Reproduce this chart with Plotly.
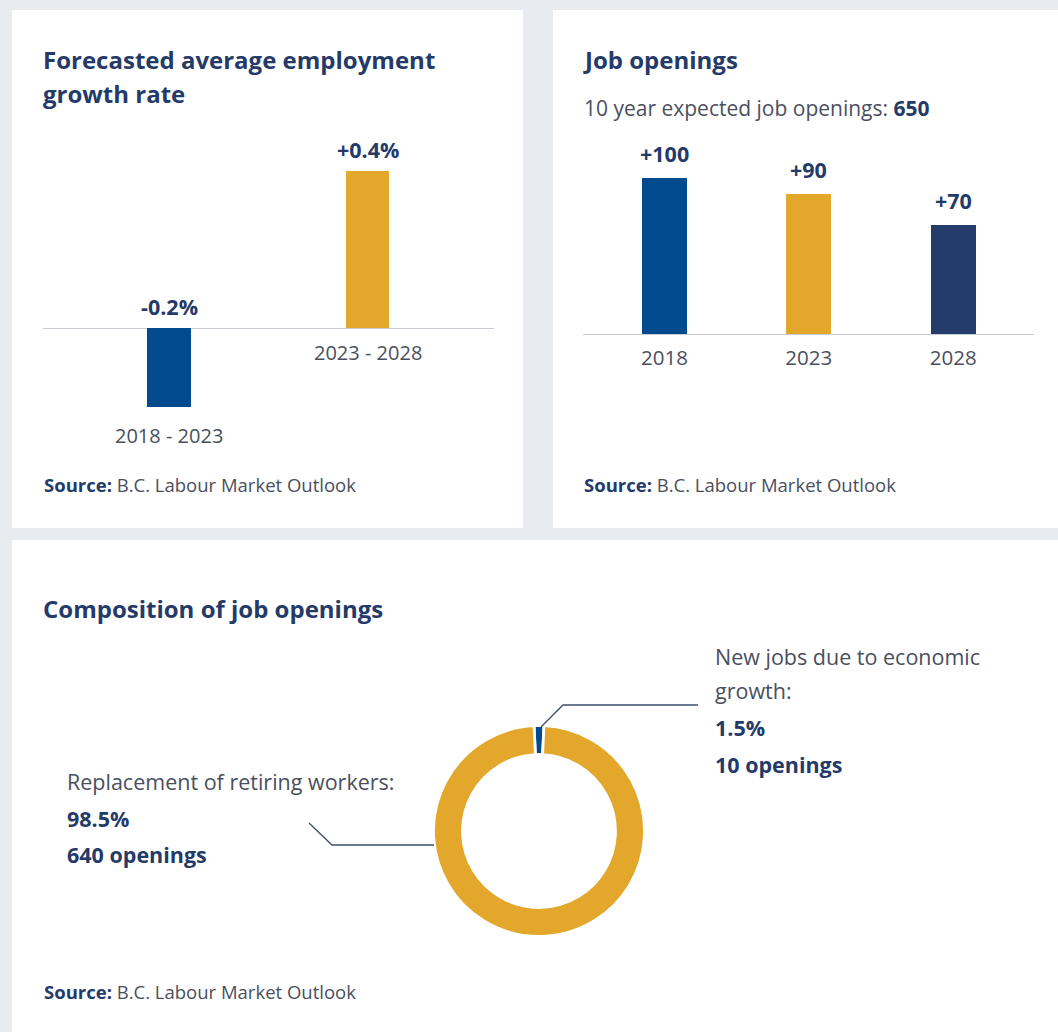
import plotly.graph_objects as go

W, H = 1058, 1032

# ---------------- data ----------------
growth_periods = ["2018 - 2023", "2023 - 2028"]
growth_values = [-0.2, 0.4]
growth_labels = ["-0.2%", "+0.4%"]

opening_years = ["2018", "2023", "2028"]
opening_values = [100, 90, 70]
opening_labels = ["+100", "+90", "+70"]
total_openings = 650

comp_names = ["New jobs due to economic growth", "Replacement of retiring workers"]
comp_share = [1.5, 98.5]
comp_openings = [10, 640]

# ---------------- style ----------------
BG = "#e8ebef"
NAVY = "#243a69"
TEXT = "#4a4f5e"
BLUE = "#014a8e"
GOLD = "#e3a72c"
DNAVY = "#233c6c"
LINE = "#c9cdd3"
FONT = "Open Sans"

def px(x):
    return x / W

def py(y):
    return 1 - y / H

fig = go.Figure()

# chart 1 : growth rate
fig.add_trace(go.Bar(
    x=growth_periods, y=growth_values, xaxis="x", yaxis="y",
    marker=dict(color=[BLUE, GOLD], line=dict(width=0)), width=0.22,
    hoverinfo="skip", showlegend=False))

# chart 2 : job openings
fig.add_trace(go.Bar(
    x=opening_years, y=opening_values, xaxis="x2", yaxis="y2",
    marker=dict(color=[BLUE, GOLD, DNAVY], line=dict(width=0)), width=0.31,
    hoverinfo="skip", showlegend=False))

# chart 3 : donut
cx, cy, r = 539, 831, 105.5
fig.add_trace(go.Pie(
    labels=comp_names, values=comp_share, hole=0.725, sort=False,
    direction="clockwise", rotation=-comp_share[0] * 3.6 / 2,
    marker=dict(colors=[BLUE, GOLD], line=dict(color="white", width=2.8)),
    textinfo="none", hoverinfo="skip", showlegend=False,
    domain=dict(x=[px(cx - r), px(cx + r)], y=[py(cy + r), py(cy - r)])))

# panels
shapes = []
for (x0, y0, x1, y1) in [(12, 10, 523, 528), (553, 10, 1058, 528), (12, 540, 1058, 1032)]:
    shapes.append(dict(type="rect", xref="paper", yref="paper", layer="below",
                       x0=px(x0), x1=px(x1), y0=py(y1), y1=py(y0),
                       fillcolor="white", line=dict(width=0)))

# leader lines for the donut
shapes.append(dict(type="path", xref="paper", yref="paper",
                   path=f"M {px(541)},{py(727)} L {px(563)},{py(705)} L {px(698)},{py(705)}",
                   line=dict(color="#3d4e70", width=1.3)))
shapes.append(dict(type="path", xref="paper", yref="paper",
                   path=f"M {px(434)},{py(845)} L {px(332)},{py(845)} L {px(309)},{py(823)}",
                   line=dict(color="#3d4e70", width=1.3)))

ann = []

def text(x, y, s, size, color, bold=False, anchor="left"):
    ann.append(dict(xref="paper", yref="paper", x=px(x), y=py(y), text=(f"<b>{s}</b>" if bold else s),
                    showarrow=False, xanchor=anchor, yanchor="middle",
                    font=dict(family=FONT, size=size, color=color)))

TITLE = 24
# titles
text(41, 60, "Forecasted average employment", TITLE, NAVY, True)
text(41, 94, "growth rate", TITLE, NAVY, True)
text(581, 60, "Job openings", TITLE, NAVY, True)
text(41, 608, "Composition of job openings", TITLE, NAVY, True)
text(582, 108, f"10 year expected job openings: <b style='color:{NAVY}'>{total_openings}</b>", 21, TEXT)

# sources
for (x, y) in [(42, 485), (582, 485), (42, 991)]:
    text(x, y, f"<b style='color:{NAVY}'>Source:</b> B.C. Labour Market Outlook", 18.5, TEXT)

# chart 1 value labels & category labels
for i, (cat, v, lab) in enumerate(zip(growth_periods, growth_values, growth_labels)):
    ann.append(dict(xref="x", yref="y", x=i, y=max(v, 0), text=f"<b>{lab}</b>", showarrow=False,
                    yanchor="bottom", yshift=5, font=dict(family=FONT, size=21.5, color=NAVY)))
    ann.append(dict(xref="x", yref="y", x=i, y=min(v, 0), text=cat, showarrow=False,
                    yanchor="top", yshift=(-13 if v < 0 else -9),
                    font=dict(family=FONT, size=20, color=TEXT)))

# chart 2 value labels
for i, (cat, v, lab) in enumerate(zip(opening_years, opening_values, opening_labels)):
    ann.append(dict(xref="x2", yref="y2", x=i, y=v, text=f"<b>{lab}</b>", showarrow=False,
                    yanchor="bottom", yshift=8, font=dict(family=FONT, size=21.5, color=NAVY)))

# donut labels
new_pct = f"{comp_share[0]}%"
rep_pct = f"{comp_share[1]}%"
LAB = 21.5
text(713, 656, "New jobs due to economic", LAB, TEXT)
text(713, 690, "growth:", LAB, TEXT)
text(713, 727, new_pct, LAB, NAVY, True)
text(713, 764, f"{comp_openings[0]} openings", LAB, NAVY, True)
text(65, 781, "Replacement of retiring workers:", LAB, TEXT)
text(65, 818, rep_pct, LAB, NAVY, True)
text(65, 854, f"{comp_openings[1]} openings", LAB, NAVY, True)

# axes geometry
c1_top, c1_bot = 140, 450
c1_scale = (328 - 171) / growth_values[1]
fig.update_layout(
    xaxis=dict(type="category", domain=[px(43), px(494)], range=[-0.635, 1.637], showticklabels=False,
               showgrid=False, zeroline=False, showline=False, fixedrange=True),
    yaxis=dict(domain=[py(c1_bot), py(c1_top)],
               range=[-(c1_bot - 328) / c1_scale, (328 - c1_top) / c1_scale],
               showticklabels=False, showgrid=False, zeroline=True, zerolinecolor=LINE,
               zerolinewidth=1.2, showline=False, fixedrange=True),
    xaxis2=dict(type="category", domain=[px(583), px(1034)], range=[-0.564, 2.56], anchor="y2",
                showgrid=False, zeroline=False, showline=True, linecolor=LINE, linewidth=1.2,
                ticks="", ticklabelstandoff=5,
                tickfont=dict(family=FONT, size=20.5, color=TEXT), fixedrange=True),
    yaxis2=dict(domain=[py(334), py(130)], range=[0, (334 - 130) / ((334 - 178) / opening_values[0])],
                anchor="x2", showticklabels=False, showgrid=False, zeroline=False,
                showline=False, fixedrange=True),
)

fig.update_layout(
    width=W, height=H, margin=dict(l=0, r=0, t=0, b=0),
    paper_bgcolor=BG, plot_bgcolor="rgba(0,0,0,0)",
    shapes=shapes, annotations=ann, bargap=0,
    font=dict(family=FONT, color=TEXT),
)

fig.write_html(
    "out.html",
    config={"displayModeBar": False},
    post_script=("document.body.style.margin='0px';document.body.style.overflow='hidden';"
                 "document.body.style.background='#e8ebef';"
                 "document.documentElement.style.background='#e8ebef';"),
)
